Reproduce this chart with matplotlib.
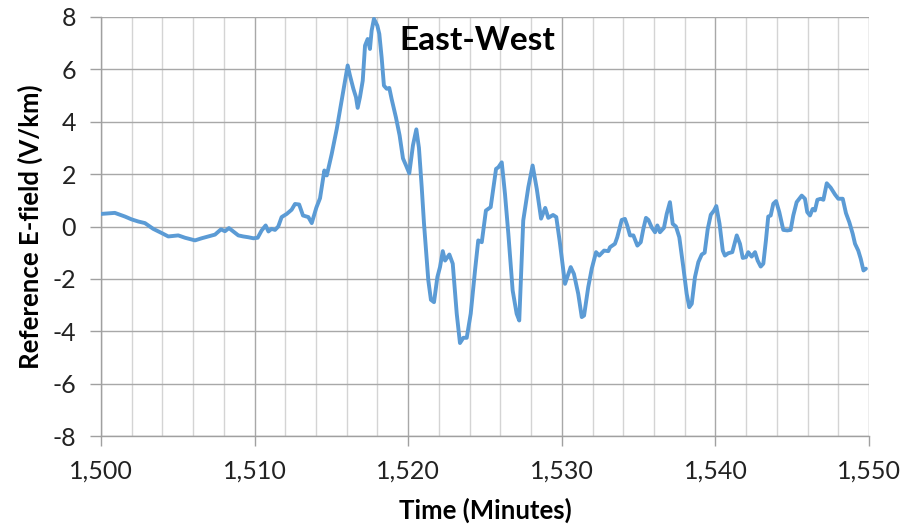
import matplotlib
matplotlib.use("Agg")
import matplotlib.pyplot as plt
from matplotlib.ticker import MultipleLocator, FuncFormatter

# Time (minutes) and reference east-west electric field (V/km)
time_min = [
    1500.0, 1500.9, 1501.56, 1502.0, 1502.43, 1502.86, 1503.4, 1503.95, 1504.38,
    1505.03, 1505.47, 1506.12, 1506.55, 1506.99, 1507.42, 1507.81, 1508.07,
    1508.33, 1508.61, 1508.94, 1509.26, 1509.59, 1509.92, 1510.2, 1510.46,
    1510.72, 1510.9, 1511.1, 1511.33, 1511.54, 1511.76, 1512.09, 1512.41,
    1512.63, 1512.9, 1513.15, 1513.5, 1513.72, 1514.02, 1514.26, 1514.54,
    1514.7, 1515.02, 1515.35, 1515.67, 1515.89, 1516.06, 1516.21, 1516.43,
    1516.6, 1516.71, 1516.86, 1517.04, 1517.19, 1517.36, 1517.51, 1517.62,
    1517.77, 1517.99, 1518.12, 1518.27, 1518.42, 1518.6, 1518.77, 1518.92,
    1519.2, 1519.44, 1519.66, 1519.86, 1520.07, 1520.31, 1520.53, 1520.7,
    1520.88, 1521.03, 1521.31, 1521.48, 1521.68, 1521.9, 1522.07, 1522.25,
    1522.4, 1522.68, 1522.9, 1523.16, 1523.37, 1523.59, 1523.81, 1524.07,
    1524.35, 1524.56, 1524.79, 1525.06, 1525.37, 1525.72, 1525.87, 1526.09,
    1526.3, 1526.52, 1526.8, 1527.06, 1527.23, 1527.49, 1527.82, 1528.1,
    1528.37, 1528.65, 1528.92, 1529.12, 1529.43, 1529.64, 1529.86, 1530.21,
    1530.58, 1530.79, 1531.07, 1531.3, 1531.45, 1531.72, 1531.95, 1532.23,
    1532.44, 1532.75, 1533.03, 1533.14, 1533.46, 1533.61, 1533.9, 1534.11,
    1534.26, 1534.44, 1534.66, 1534.92, 1535.14, 1535.31, 1535.48, 1535.64,
    1535.85, 1536.07, 1536.22, 1536.39, 1536.65, 1536.83, 1537.04, 1537.22,
    1537.43, 1537.65, 1537.91, 1538.13, 1538.3, 1538.46, 1538.67, 1538.89,
    1539.11, 1539.3, 1539.5, 1539.7, 1539.9, 1540.06, 1540.27, 1540.48,
    1540.62, 1540.84, 1541.1, 1541.39, 1541.6, 1541.78, 1541.99, 1542.14,
    1542.36, 1542.58, 1542.75, 1542.95, 1543.12, 1543.29, 1543.44, 1543.6,
    1543.77, 1543.95, 1544.16, 1544.42, 1544.68, 1544.9, 1545.07, 1545.29,
    1545.62, 1545.83, 1545.98, 1546.16, 1546.33, 1546.48, 1546.64, 1546.86,
    1547.03, 1547.25, 1547.51, 1547.79, 1548.0, 1548.29, 1548.5, 1548.72,
    1548.94, 1549.09, 1549.3, 1549.46, 1549.64, 1549.8,
]
efield_vkm = [
    0.48, 0.52, 0.38, 0.27, 0.19, 0.13, -0.09, -0.25, -0.38,
    -0.34, -0.43, -0.53, -0.45, -0.38, -0.31, -0.11, -0.18,
    -0.06, -0.19, -0.34, -0.38, -0.41, -0.45, -0.43, -0.15,
    0.04, -0.19, -0.09, -0.13, 0.0, 0.36, 0.48, 0.64,
    0.86, 0.84, 0.42, 0.36, 0.13, 0.72, 1.08, 2.14,
    1.95, 2.77, 3.73, 4.81, 5.57, 6.15, 5.76, 5.26,
    4.94, 4.53, 4.94, 5.57, 6.91, 7.16, 6.78, 7.48,
    7.93, 7.67, 7.35, 6.46, 5.38, 5.26, 5.29, 4.87,
    4.17, 3.48, 2.6, 2.33, 2.03, 3.1, 3.71, 3.0,
    1.5, 0.1, -2.06, -2.8, -2.89, -1.93, -1.55, -0.94,
    -1.3, -1.07, -1.42, -3.33, -4.45, -4.25, -4.25, -3.33,
    -1.68, -0.53, -0.6, 0.61, 0.74, 2.2, 2.26, 2.45,
    1.25, -0.28, -2.44, -3.33, -3.59, 0.23, 1.5, 2.33,
    1.44, 0.3, 0.71, 0.33, 0.44, 0.36, -0.55, -2.19,
    -1.55, -1.81, -2.57, -3.46, -3.4, -2.32, -1.61, -0.98,
    -1.11, -0.92, -0.94, -0.79, -0.66, -0.41, 0.25, 0.29,
    0.04, -0.34, -0.34, -0.73, -0.6, -0.09, 0.33, 0.25,
    -0.03, -0.22, 0.04, -0.22, -0.05, 0.48, 0.93, 0.1,
    0.0, -0.41, -1.55, -2.57, -3.08, -2.95, -1.93, -1.36,
    -1.07, -1.0, -0.1, 0.45, 0.6, 0.78, 0.1, -0.92,
    -1.11, -1.02, -0.98, -0.34, -0.66, -1.2, -1.17, -0.98,
    -1.15, -0.98, -1.3, -1.53, -1.42, -0.53, 0.38, 0.42,
    0.87, 0.97, 0.55, -0.13, -0.15, -0.13, 0.42, 0.93,
    1.18, 1.06, 0.55, 0.42, 0.67, 0.61, 1.02, 1.06,
    1.02, 1.65, 1.48, 1.22, 1.06, 1.06, 0.51, 0.16,
    -0.28, -0.66, -0.92, -1.23, -1.68, -1.61,
]

chart_title = "East-West"
x_label = "Time (Minutes)"
y_label = "Reference E-field (V/km)"

plt.rcParams["font.family"] = ["Lato", "DejaVu Sans"]

fig = plt.figure(figsize=(9.12, 5.29), dpi=100)
ax = fig.add_axes([101 / 912, 1 - 436 / 529, 768 / 912, 419 / 529])

# grid: light minor verticals every 2 min, darker majors every 10 min and every 2 V/km
ax.set_xlim(1500, 1550)
ax.set_ylim(-8, 8)
ax.xaxis.set_major_locator(MultipleLocator(10))
ax.xaxis.set_minor_locator(MultipleLocator(2))
ax.yaxis.set_major_locator(MultipleLocator(2))
ax.grid(which="minor", axis="x", color="#d4d4d4", linewidth=1.0)
ax.grid(which="major", axis="x", color="#a8a8a8", linewidth=1.0)
ax.grid(which="major", axis="y", color="#a8a8a8", linewidth=1.0)
ax.set_axisbelow(True)

ax.plot(time_min, efield_vkm, color="#5b9bd5", linewidth=2.8,
        solid_joinstyle="round", solid_capstyle="round", zorder=3)

ax.xaxis.set_major_formatter(FuncFormatter(lambda v, p: f"{int(round(v)):,}"))
ax.yaxis.set_major_formatter(FuncFormatter(lambda v, p: f"{int(round(v))}"))

for side in ("top", "right"):
    ax.spines[side].set_visible(False)
for side in ("left", "bottom"):
    ax.spines[side].set_color("#a0a0a0")
    ax.spines[side].set_linewidth(1.0)

ax.tick_params(axis="x", which="major", direction="out", length=7, width=1,
               color="#a0a0a0", labelsize=18, pad=10, labelcolor="#222222")
ax.tick_params(axis="x", which="minor", length=0)
ax.tick_params(axis="y", which="major", direction="out", length=8, width=1,
               color="#a0a0a0", labelsize=18, pad=10, labelcolor="#222222")

ax.set_xlabel(x_label, fontsize=18.5, fontweight="bold", labelpad=11)
ax.set_ylabel(y_label, fontsize=18.5, fontweight="bold", labelpad=7)

ax.text(0.389, 0.945, chart_title, transform=ax.transAxes, fontsize=24,
        fontweight="bold", ha="left", va="center", color="black", zorder=4)

fig.savefig("out.png", dpi=100)
